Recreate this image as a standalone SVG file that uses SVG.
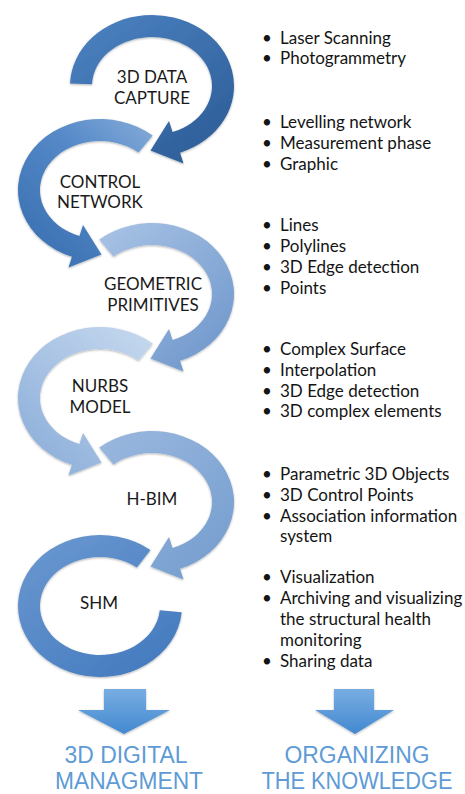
<svg xmlns="http://www.w3.org/2000/svg" xmlns:xlink="http://www.w3.org/1999/xlink" width="465" height="794" viewBox="0 0 465 794">
<style>
.lbl{font-family:Lato,"Open Sans","DejaVu Sans",sans-serif;font-size:17px;fill:#1a1a1a;text-anchor:middle}
.bul{font-family:Lato,"Open Sans","DejaVu Sans",sans-serif;font-size:17px;fill:#141414}
.big{font-family:"Liberation Sans",Arial,sans-serif;font-size:23px;fill:#5e9bd6;text-anchor:middle}
.sh{filter:url(#shadow)}
</style>
<defs>
<filter id="shadow" x="-20%" y="-20%" width="140%" height="140%">
<feDropShadow dx="0" dy="1" stdDeviation="1.3" flood-color="#000" flood-opacity="0.3"/>
</filter>
<path id="cw" d="M -52.71 -54.39 A 82 71 0 1 1 28.04 66.72 L 31.5 77.5 L -1.5 64.5 L 17 35 L 20.52 46.04 A 60 49 0 1 0 -38.57 -37.53 Z"/>
<path id="cwFirst" d="M -81.95 -2.48 A 82 71 0 1 1 28.04 66.72 L 31.5 77.5 L -1.5 64.5 L 17 35 L 20.52 46.04 A 60 49 0 1 0 -59.96 -1.71 Z"/>
<path id="ring" d="M 50.49 -55.95 A 82 71 0 1 0 81.69 6.19 L 59.77 4.27 A 60 49 0 1 1 36.94 -38.61 Z"/>
<linearGradient id="g1" x1="0" y1="0" x2="0.8" y2="1"><stop offset="0" stop-color="#4d83c3"/><stop offset="1" stop-color="#2d5e98"/></linearGradient>
<linearGradient id="g2" x1="0" y1="0" x2="0.8" y2="1"><stop offset="0" stop-color="#86acd9"/><stop offset="0.4" stop-color="#5589c8"/><stop offset="1" stop-color="#3a70b1"/></linearGradient>
<linearGradient id="g3" x1="0" y1="0" x2="0.8" y2="1"><stop offset="0" stop-color="#a9c3e5"/><stop offset="1" stop-color="#7098cc"/></linearGradient>
<linearGradient id="g4" x1="0" y1="0" x2="0.8" y2="1"><stop offset="0" stop-color="#c7d9ef"/><stop offset="1" stop-color="#8dafda"/></linearGradient>
<linearGradient id="g5" x1="0" y1="0" x2="0.8" y2="1"><stop offset="0" stop-color="#9ab8df"/><stop offset="1" stop-color="#769ecf"/></linearGradient>
<linearGradient id="g6" x1="0" y1="0" x2="0.8" y2="1"><stop offset="0" stop-color="#6c99d1"/><stop offset="1" stop-color="#447bbf"/></linearGradient>
<linearGradient id="gd" x1="0" y1="0" x2="0" y2="1"><stop offset="0" stop-color="#78ade2"/><stop offset="1" stop-color="#4389d0"/></linearGradient>
</defs>

<g id="node-shm">
<use xlink:href="#ring" href="#ring" class="sh" fill="url(#g6)" transform="translate(100,606)"/>
<text class="lbl" x="99" y="609">SHM</text>
</g>
<g id="node-hbim">
<use xlink:href="#cw" href="#cw" class="sh" fill="url(#g5)" transform="translate(152,502)"/>
<text class="lbl" x="152" y="505">H-BIM</text>
</g>
<g id="node-nurbs">
<use xlink:href="#cw" href="#cw" class="sh" fill="url(#g4)" transform="translate(100,398) scale(-1,1)"/>
<text class="lbl" x="100" y="392">NURBS</text>
<text class="lbl" x="100" y="413">MODEL</text>
</g>
<g id="node-geometric">
<use xlink:href="#cw" href="#cw" class="sh" fill="url(#g3)" transform="translate(152,294)"/>
<text class="lbl" x="153" y="290">GEOMETRIC</text>
<text class="lbl" x="153" y="311">PRIMITIVES</text>
</g>
<g id="node-control">
<use xlink:href="#cw" href="#cw" class="sh" fill="url(#g2)" transform="translate(100,190) scale(-1,1)"/>
<text class="lbl" x="100" y="188">CONTROL</text>
<text class="lbl" x="100" y="208">NETWORK</text>
</g>
<g id="node-capture">
<use xlink:href="#cwFirst" href="#cwFirst" class="sh" fill="url(#g1)" transform="translate(152,86)"/>
<text class="lbl" x="152" y="83">3D DATA</text>
<text class="lbl" x="152" y="104">CAPTURE</text>
</g>

<g id="lists" class="bul">
<text x="262" y="44">•</text><text x="280" y="44">Laser Scanning</text>
<text x="262" y="64">•</text><text x="280" y="64">Photogrammetry</text>
<text x="262" y="128">•</text><text x="280" y="128">Levelling network</text>
<text x="262" y="149">•</text><text x="280" y="149">Measurement phase</text>
<text x="262" y="170">•</text><text x="280" y="170">Graphic</text>
<text x="262" y="231">•</text><text x="280" y="231">Lines</text>
<text x="262" y="252">•</text><text x="280" y="252">Polylines</text>
<text x="262" y="273">•</text><text x="280" y="273">3D Edge detection</text>
<text x="262" y="294">•</text><text x="280" y="294">Points</text>
<text x="262" y="355">•</text><text x="280" y="355">Complex Surface</text>
<text x="262" y="376">•</text><text x="280" y="376">Interpolation</text>
<text x="262" y="397">•</text><text x="280" y="397">3D Edge detection</text>
<text x="262" y="417">•</text><text x="280" y="417">3D complex elements</text>
<text x="262" y="480">•</text><text x="280" y="480">Parametric 3D Objects</text>
<text x="262" y="501">•</text><text x="280" y="501">3D Control Points</text>
<text x="262" y="522">•</text><text x="280" y="522">Association information</text>
<text x="280" y="542">system</text>
<text x="262" y="583">•</text><text x="280" y="583">Visualization</text>
<text x="262" y="604">•</text><text x="280" y="604">Archiving and visualizing</text>
<text x="280" y="625">the structural health</text>
<text x="280" y="646">monitoring</text>
<text x="262" y="667">•</text><text x="280" y="667">Sharing data</text>
</g>

<g id="connectors">
<path class="sh" fill="url(#gd)" d="M 104 689 H 146 V 710 H 170 L 124 734 L 78 710 H 104 Z"/>
<path class="sh" fill="url(#gd)" d="M 334 689 H 374 V 710 H 394 L 355 734 L 315 710 H 334 Z"/>
</g>

<g id="outcomes">
<text class="big" x="126" y="763" textLength="123" lengthAdjust="spacingAndGlyphs">3D DIGITAL</text>
<text class="big" x="129" y="789" textLength="148" lengthAdjust="spacingAndGlyphs">MANAGMENT</text>
<text class="big" x="357" y="763" textLength="145" lengthAdjust="spacingAndGlyphs">ORGANIZING</text>
<text class="big" x="357" y="789" textLength="191" lengthAdjust="spacingAndGlyphs">THE KNOWLEDGE</text>
</g>
</svg>
